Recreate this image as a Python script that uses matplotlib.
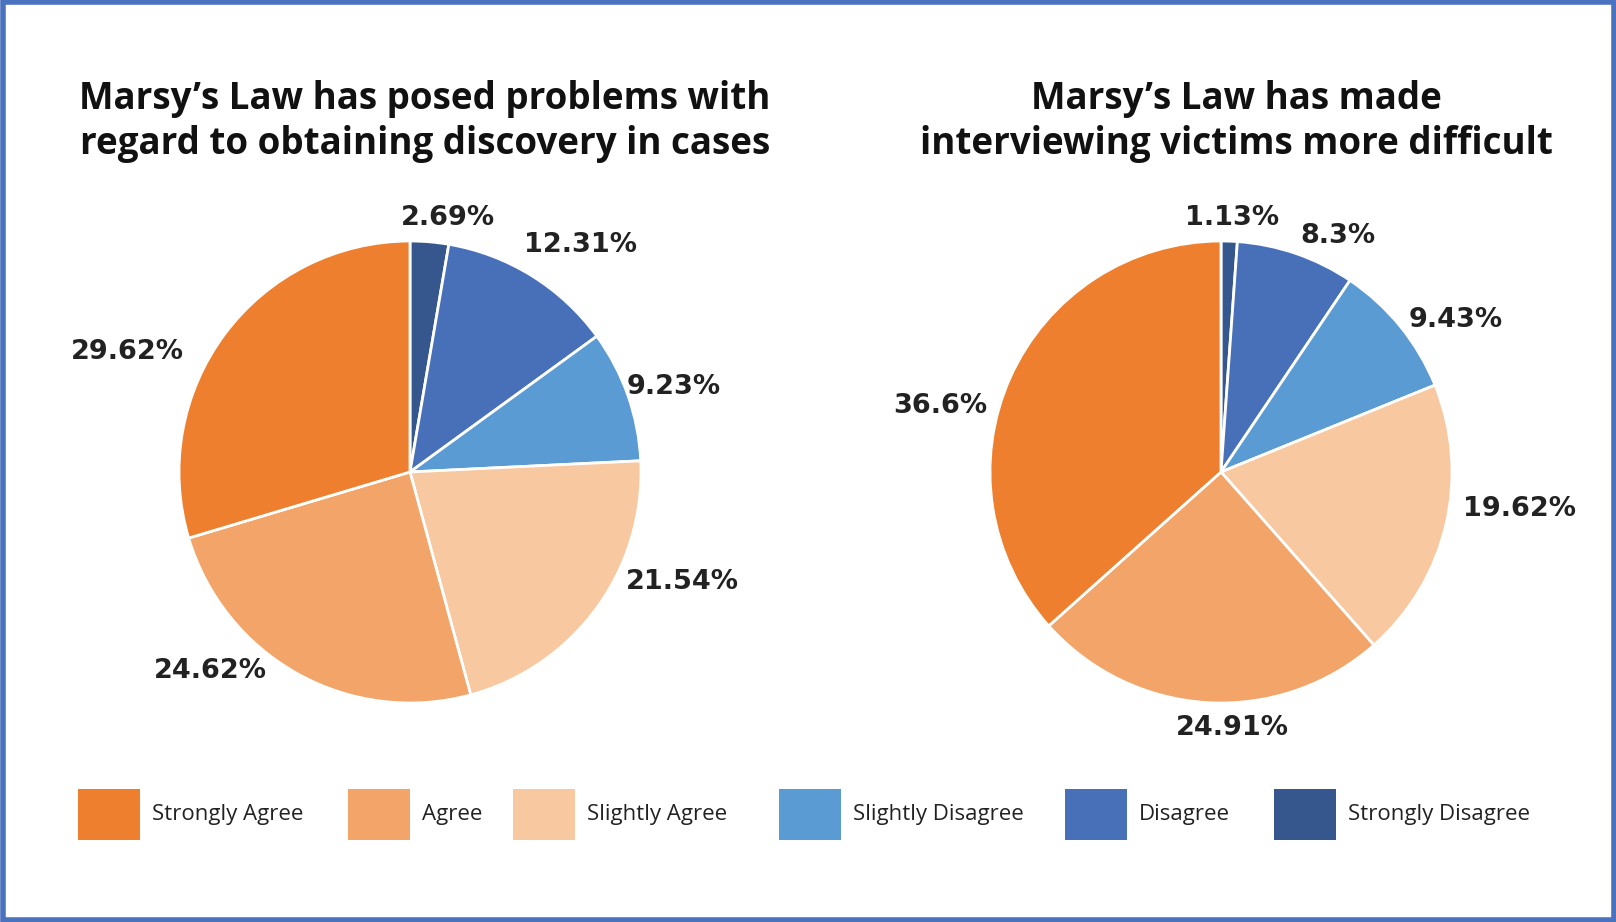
import matplotlib
matplotlib.use("Agg")
import matplotlib.pyplot as plt
from matplotlib.patches import Rectangle
import numpy as np

# ---- data ----
categories = ["Strongly Disagree", "Disagree", "Slightly Disagree",
              "Slightly Agree", "Agree", "Strongly Agree"]
discovery_values = [2.69, 12.31, 9.23, 21.54, 24.62, 29.62]
interview_values = [1.13, 8.3, 9.43, 19.62, 24.91, 36.6]
titles = [["Marsy\u2019s Law has posed problems with",
           "regard to obtaining discovery in cases"],
          ["Marsy\u2019s Law has made",
           "interviewing victims more difficult"]]
legend_order = ["Strongly Agree", "Agree", "Slightly Agree",
                "Slightly Disagree", "Disagree", "Strongly Disagree"]

# ---- styles ----
colors = {
    "Strongly Agree": "#ED7F2E",
    "Agree": "#F3A468",
    "Slightly Agree": "#F8C8A0",
    "Slightly Disagree": "#5B9BD3",
    "Disagree": "#4870B8",
    "Strongly Disagree": "#36578E",
}
# label placement (angle in degrees, distance in radii)
label_pos = [
    [(81.4, 1.11), (53, 1.23), (17.8, 1.20), (-22, 1.27), (-135, 1.22), (157, 1.33)],
    [(87.4, 1.10), (63.6, 1.14), (33, 1.21), (-7, 1.30), (-87.5, 1.11), (166.8, 1.25)],
]

W, H = 1616, 922
fig = plt.figure(figsize=(W / 100, H / 100), dpi=100)
fig.patch.set_facecolor("white")

title_font = "Open Sans"
R = 231
centers = [(410, 472), (1221, 472)]
title_x = [425, 1236]
title_baselines = [109, 154]

for i, vals in enumerate([discovery_values, interview_values]):
    cx, cy = centers[i]
    half = 1.5 * R
    ax = fig.add_axes([(cx - half) / W, (H - cy - half) / H, 2 * half / W, 2 * half / H])
    ax.pie(vals, colors=[colors[c] for c in categories], startangle=90,
           counterclock=False, radius=1,
           wedgeprops=dict(edgecolor="white", linewidth=2))
    ax.set_xlim(-1.5, 1.5)
    ax.set_ylim(-1.5, 1.5)
    ax.set_aspect("equal")
    ax.axis("off")
    for v, (ang, d) in zip(vals, label_pos[i]):
        a = np.deg2rad(ang)
        ax.text(d * np.cos(a), d * np.sin(a), f"{v:g}%", ha="center", va="center",
                fontsize=19.5, fontweight="bold", family="DejaVu Sans", color="#222222")
    for line, yb in zip(titles[i], title_baselines):
        fig.text(title_x[i] / W, 1 - yb / H, line, ha="center", va="baseline",
                 fontsize=26.5, fontweight="bold", family=title_font, color="#111111")

# legend
sq_x = [78, 348, 513, 779, 1065, 1274]
for name, x in zip(legend_order, sq_x):
    fig.patches.append(Rectangle((x / W, 1 - 840 / H), 62 / W, 51 / H,
                                 transform=fig.transFigure,
                                 facecolor=colors[name], edgecolor="none"))
    fig.text((x + 74) / W, 1 - 814 / H, name, ha="left", va="center",
             fontsize=16, family="Open Sans", color="#222222")

# border
fig.patches.append(Rectangle((2.5 / W, 2.5 / H), 1 - 5 / W, 1 - 5 / H,
                             transform=fig.transFigure, fill=False,
                             edgecolor="#4A72BE", linewidth=4))

fig.savefig("out.png", dpi=100, facecolor="white")
